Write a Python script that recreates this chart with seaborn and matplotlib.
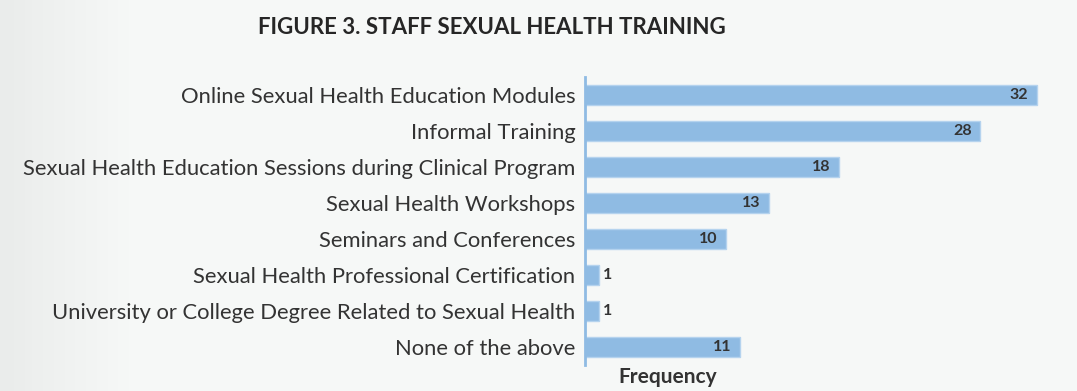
import matplotlib
matplotlib.use("Agg")
import matplotlib.pyplot as plt
import seaborn as sns
import pandas as pd
import numpy as np

categories = [
    "Online Sexual Health Education Modules",
    "Informal Training",
    "Sexual Health Education Sessions during Clinical Program",
    "Sexual Health Workshops",
    "Seminars and Conferences",
    "Sexual Health Professional Certification",
    "University or College Degree Related to Sexual Health",
    "None of the above",
]
frequency = [32, 28, 18, 13, 10, 1, 1, 11]
title = "FIGURE 3. STAFF SEXUAL HEALTH TRAINING"
xlabel = "Frequency"

df = pd.DataFrame({"cat": categories, "freq": frequency})

sns.set_style("white")
plt.rcParams['font.family'] = ['Lato', 'DejaVu Sans']

bg = "#f6f8f7"
bar_color = "#8fbbe3"
text_color = "#333333"

fig = plt.figure(figsize=(10.77, 3.91), dpi=100, facecolor=bg)
# subtle left-side gradient
gax = fig.add_axes([0, 0, 1, 1], zorder=-10)
grad = np.linspace(0, 1, 300)
grad = np.clip(grad / 0.12, 0, 1)
gax.imshow(grad[None, :], aspect="auto",
           cmap=matplotlib.colors.LinearSegmentedColormap.from_list("g", ["#eaeceb", bg]),
           extent=[0, 1, 0, 1])
gax.set_axis_off()

ax = fig.add_axes([585/1077, 1-365/391, (1065-585)/1077, (365-77)/391])
ax.set_facecolor("none")
sns.barplot(data=df, x="freq", y="cat", orient="h", color=bar_color, ax=ax,
            width=0.56, edgecolor="#b5d3ee", linewidth=1.0, saturation=1)
ax.set_xlim(0, 34)
ax.set_ylim(7.5, -0.5)
for s in ["top", "right", "bottom"]:
    ax.spines[s].set_visible(False)
ax.spines["left"].set_color(bar_color)
ax.spines["left"].set_linewidth(2)
ax.set_xticks([])
ax.set_ylabel("")
ax.set_xlabel("")
ax.tick_params(axis="y", length=0, pad=7, labelsize=15.8, labelcolor=text_color)

for i, v in enumerate(frequency):
    if v > 2:
        ax.text(v - 0.6, i, str(v), ha="right", va="center", fontsize=11.5,
                fontweight="bold", color=text_color)
    else:
        ax.text(v + 0.3, i, str(v), ha="left", va="center", fontsize=11.5,
                fontweight="bold", color=text_color)

fig.text(668/1077, 1-377/391, xlabel, ha="center", va="center", fontsize=15,
         fontweight="bold", color=text_color)
fig.text(492/1077, 1-28/391, title, ha="center", va="center", fontsize=16,
         fontweight="bold", color="#262626")

fig.savefig("out.png", dpi=100, facecolor=bg)
